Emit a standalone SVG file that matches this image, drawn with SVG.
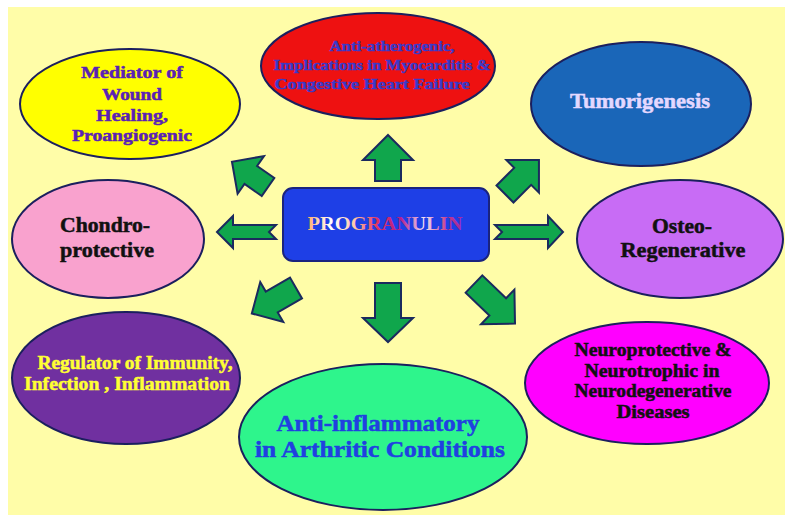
<svg xmlns="http://www.w3.org/2000/svg" width="785" height="522" viewBox="0 0 785 522">
<defs>
<style>
.ell{stroke:#1B1F5E;stroke-width:2}
.arr{fill:#10A64C;stroke:#1B2A5E;stroke-width:2;stroke-linejoin:miter}
.t{font-family:"Liberation Serif","DejaVu Serif",serif;font-weight:bold;text-anchor:middle;stroke-width:0.5}
</style>
<linearGradient id="pg" gradientUnits="userSpaceOnUse" x1="308" y1="0" x2="463" y2="0">
<stop offset="0" stop-color="#FFB070"/>
<stop offset="0.15" stop-color="#FFFFFF"/>
<stop offset="0.3" stop-color="#FFC8A8"/>
<stop offset="0.45" stop-color="#E03060"/>
<stop offset="0.6" stop-color="#B02090"/>
<stop offset="0.75" stop-color="#F4E4F4"/>
<stop offset="0.9" stop-color="#C83888"/>
<stop offset="1" stop-color="#9A28A8"/>
</linearGradient>
</defs>
<rect x="0" y="0" width="785" height="522" fill="#FFFFFF"/>
<rect x="8" y="7" width="777" height="508" fill="#FFFDA8"/>

<g id="connectors">
<polygon class="arr" points="388,135 413,160 401,160 401,181 375,181 375,160 363,160"/>
<polygon class="arr" points="375,283 401,283 401,318 413,318 388,342 363,318 375,318"/>
<polygon class="arr" points="217,232 233,216 233,225 276,225 269,232 276,239 233,239 233,248"/>
<polygon class="arr" points="495,225 548,225 548,216 563,232 548,248 548,239 495,239 502,232"/>
<polygon class="arr" transform="translate(505,194) rotate(-45)" points="0,-12 25,-12 25,-23 48,0 25,23 25,12 0,12"/>
<polygon class="arr" transform="translate(268,187) rotate(-145)" points="0,-11 21,-11 21,-23 44,0 21,23 21,11 0,11"/>
<polygon class="arr" transform="translate(296,288) rotate(150)" points="0,-12 28,-12 28,-23 51,0 28,23 28,12 0,12"/>
<polygon class="arr" transform="translate(474,284) rotate(44)" points="0,-12 33,-12 33,-24 57,0 33,24 33,12 0,12"/>
</g>

<g id="progranulin">
<rect x="283" y="188" width="206" height="73" rx="10" fill="#1E3FE6" stroke="#1A237E" stroke-width="2"/>
<text class="t" x="385" y="230" font-size="19.5" fill="url(#pg)" textLength="155" lengthAdjust="spacingAndGlyphs">PROGRANULIN</text>
</g>

<g id="wound">
<ellipse class="ell" cx="130" cy="104" rx="110" ry="55" fill="#FFFF00"/>
<text class="t" x="132" y="78" font-size="17.5" fill="#5A21B5" stroke="#5A21B5" textLength="102" lengthAdjust="spacingAndGlyphs">Mediator of</text>
<text class="t" x="132" y="100" font-size="17.5" fill="#5A21B5" stroke="#5A21B5" textLength="60" lengthAdjust="spacingAndGlyphs">Wound</text>
<text class="t" x="132" y="121" font-size="17.5" fill="#5A21B5" stroke="#5A21B5" textLength="72" lengthAdjust="spacingAndGlyphs">Healing,</text>
<text class="t" x="132" y="141" font-size="17.5" fill="#5A21B5" stroke="#5A21B5" textLength="120" lengthAdjust="spacingAndGlyphs">Proangiogenic</text>
</g>

<g id="atherogenic">
<ellipse class="ell" cx="378" cy="66" rx="117" ry="53" fill="#EE1111"/>
<text class="t" x="392" y="51" font-size="15" fill="#3A3AC8" stroke="#3A3AC8" textLength="125" lengthAdjust="spacingAndGlyphs">Anti-atherogenic,</text>
<text class="t" x="382" y="70" font-size="15" fill="#3A3AC8" stroke="#3A3AC8" textLength="217" lengthAdjust="spacingAndGlyphs">Implications in Myocarditis &amp;</text>
<text class="t" x="372" y="89" font-size="15" fill="#3A3AC8" stroke="#3A3AC8" textLength="195" lengthAdjust="spacingAndGlyphs">Congestive Heart Failure</text>
</g>

<g id="tumorigenesis">
<ellipse class="ell" cx="641" cy="104" rx="110" ry="62" fill="#1A66B8"/>
<text class="t" x="640" y="108" font-size="21.5" fill="#E4D8FF" stroke="#E4D8FF" textLength="140" lengthAdjust="spacingAndGlyphs">Tumorigenesis</text>
</g>

<g id="chondro">
<ellipse class="ell" cx="108" cy="239" rx="96" ry="59" fill="#F9A2CE"/>
<text class="t" x="105" y="232" font-size="21" fill="#111111" stroke="#111111" textLength="90" lengthAdjust="spacingAndGlyphs">Chondro-</text>
<text class="t" x="107" y="257" font-size="21" fill="#111111" stroke="#111111" textLength="94" lengthAdjust="spacingAndGlyphs">protective</text>
</g>

<g id="osteo">
<ellipse class="ell" cx="680" cy="239" rx="103" ry="59" fill="#C86CF5"/>
<text class="t" x="682" y="233" font-size="21" fill="#111111" stroke="#111111" textLength="60" lengthAdjust="spacingAndGlyphs">Osteo-</text>
<text class="t" x="683" y="257" font-size="21" fill="#111111" stroke="#111111" textLength="125" lengthAdjust="spacingAndGlyphs">Regenerative</text>
</g>

<g id="immunity">
<ellipse class="ell" cx="126" cy="378" rx="114" ry="66" fill="#7030A0"/>
<text class="t" x="135" y="369" font-size="18" fill="#FFFF33" stroke="#FFFF33" textLength="195" lengthAdjust="spacingAndGlyphs">Regulator of Immunity,</text>
<text class="t" x="127" y="390" font-size="18" fill="#FFFF33" stroke="#FFFF33" textLength="206" lengthAdjust="spacingAndGlyphs">Infection , Inflammation</text>
</g>

<g id="antiinflammatory">
<ellipse class="ell" cx="383" cy="437" rx="144" ry="73" fill="#2EF58C"/>
<text class="t" x="378" y="431" font-size="23.5" fill="#2040E0" stroke="#2040E0" textLength="203" lengthAdjust="spacingAndGlyphs">Anti-inflammatory</text>
<text class="t" x="380" y="457" font-size="23.5" fill="#2040E0" stroke="#2040E0" textLength="250" lengthAdjust="spacingAndGlyphs">in Arthritic Conditions</text>
</g>

<g id="neuro">
<ellipse class="ell" cx="647" cy="383" rx="122" ry="61" fill="#FF00FF"/>
<text class="t" x="653" y="356" font-size="18" fill="#111111" stroke="#111111" textLength="157" lengthAdjust="spacingAndGlyphs">Neuroprotective &amp;</text>
<text class="t" x="652" y="377" font-size="18" fill="#111111" stroke="#111111" textLength="135" lengthAdjust="spacingAndGlyphs">Neurotrophic in</text>
<text class="t" x="653" y="397" font-size="18" fill="#111111" stroke="#111111" textLength="157" lengthAdjust="spacingAndGlyphs">Neurodegenerative</text>
<text class="t" x="653" y="418" font-size="18" fill="#111111" stroke="#111111" textLength="73" lengthAdjust="spacingAndGlyphs">Diseases</text>
</g>
</svg>
